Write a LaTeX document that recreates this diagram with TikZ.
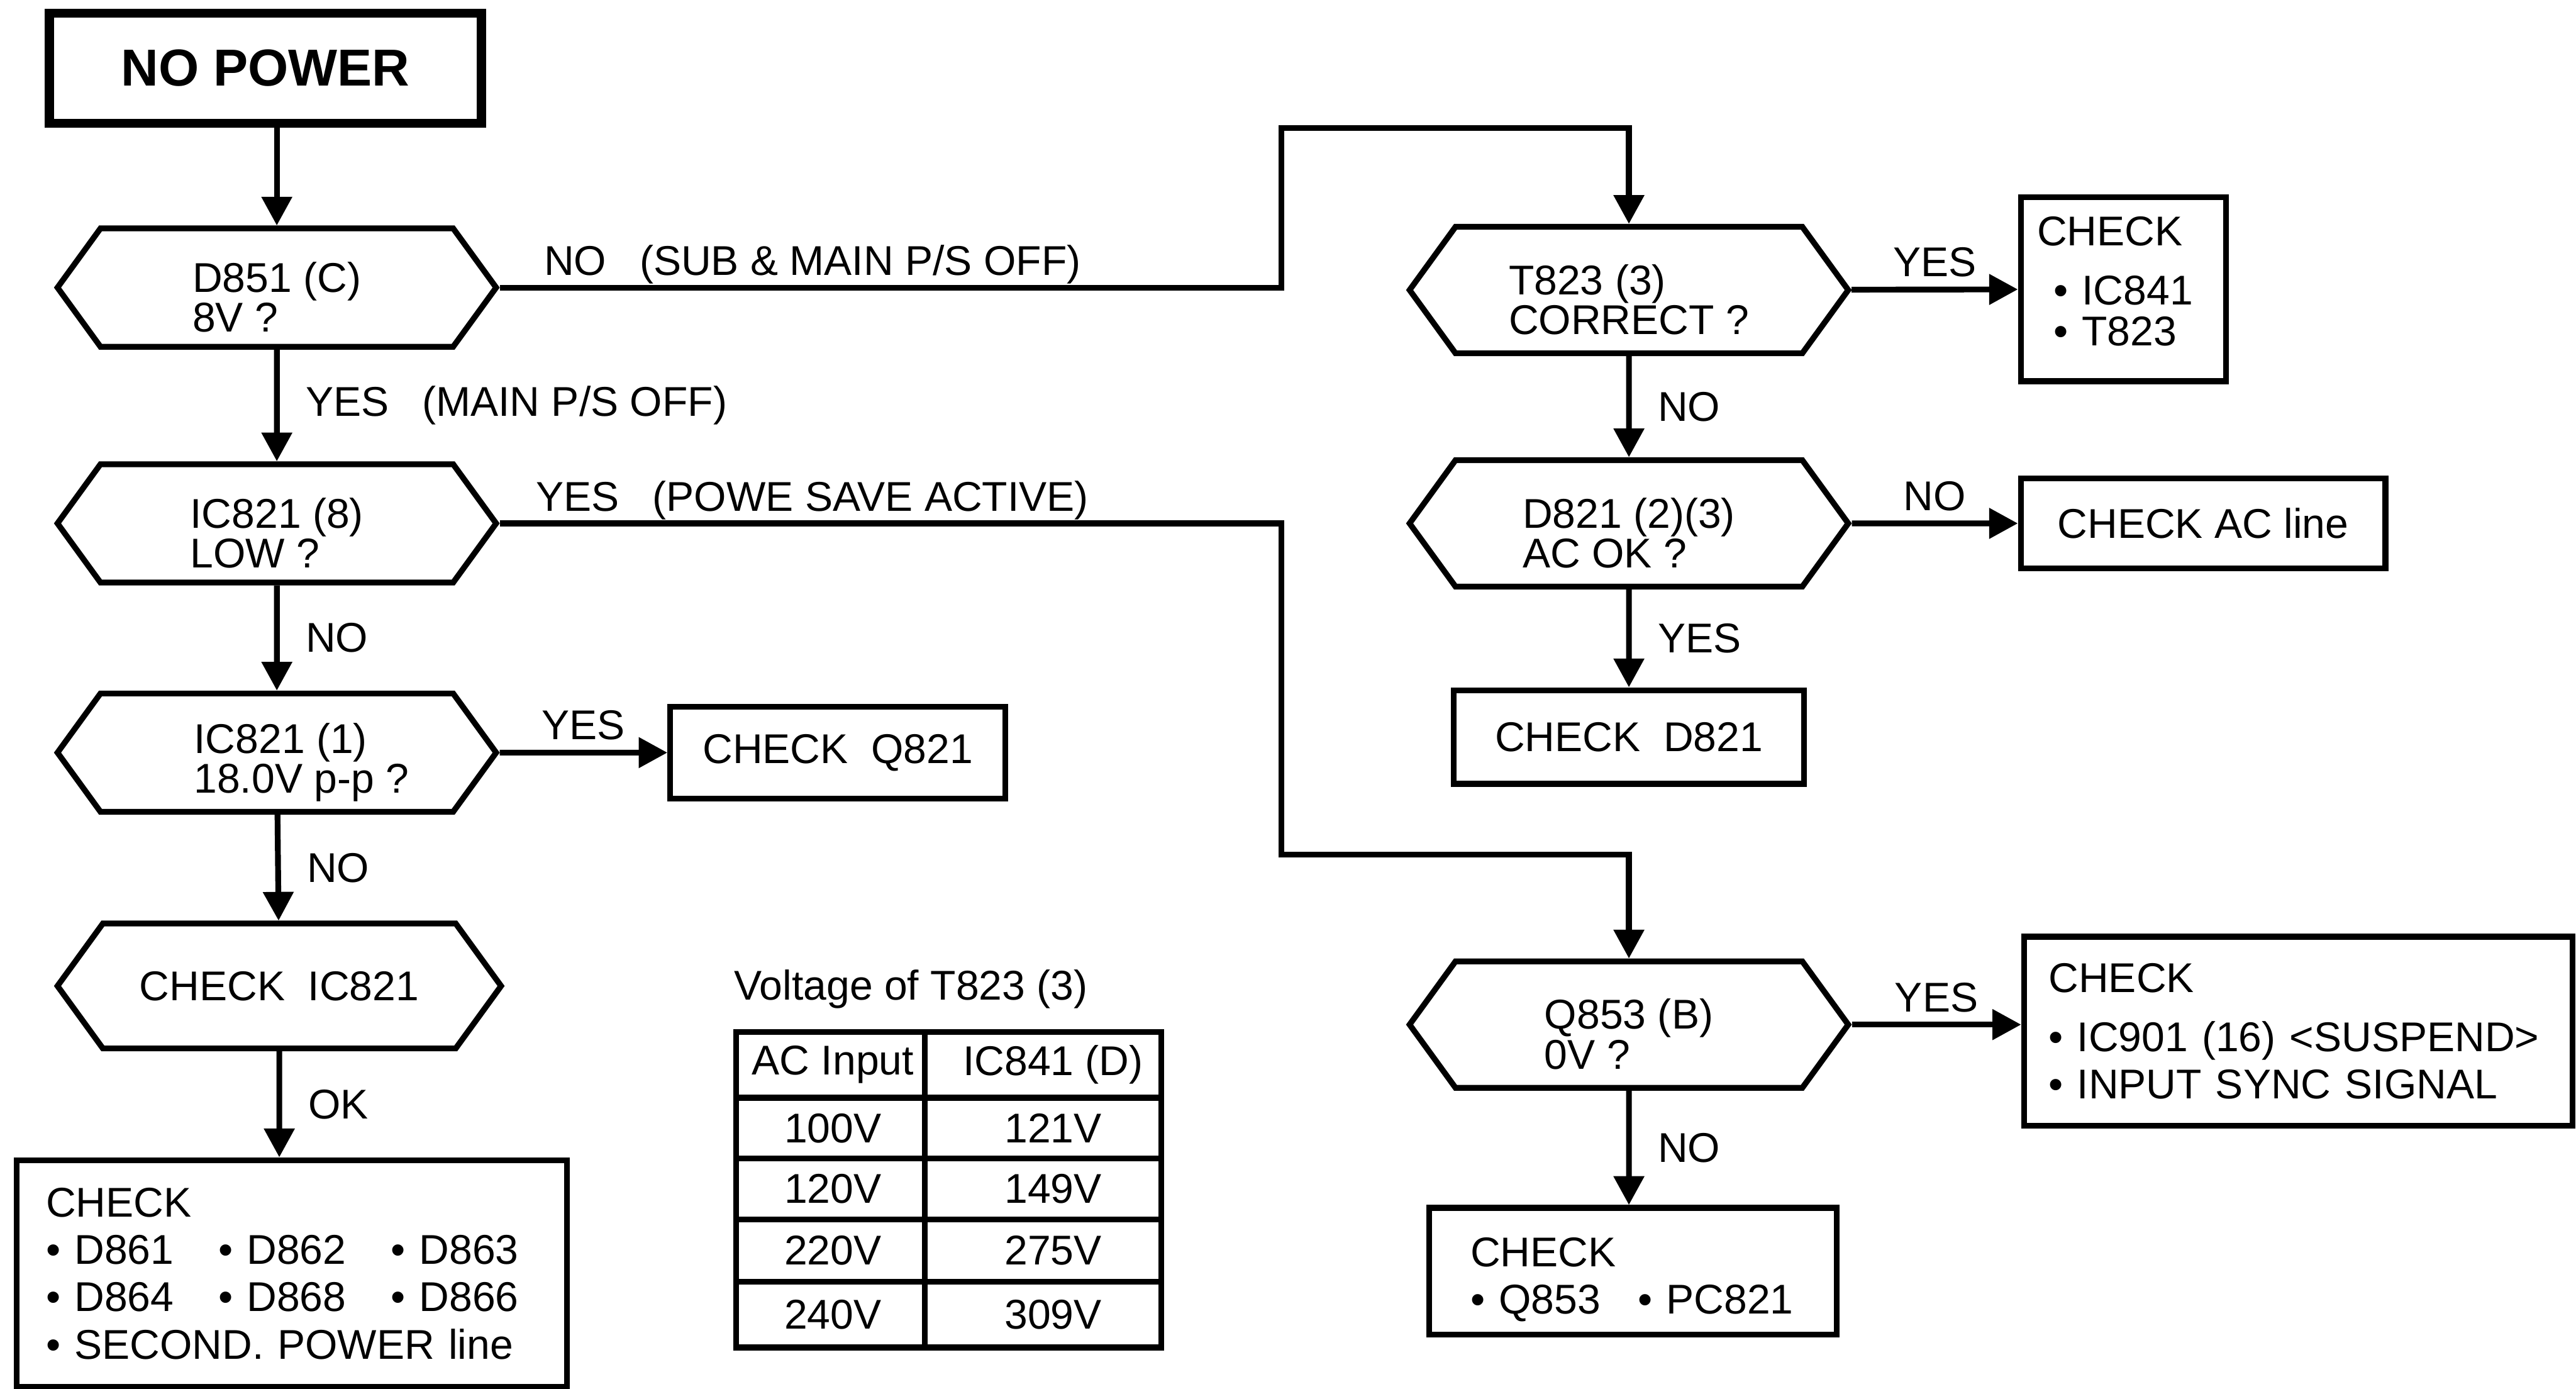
\documentclass[tikz,border=0pt]{standalone}
\usepackage{fontspec}
\setmainfont{Liberation Sans}
\usetikzlibrary{arrows.meta,shapes.symbols}
\newcommand{\hexstrut}{\rule{0pt}{0.6cm}}

\begin{document}
\begin{tikzpicture}[
    every node/.style={font=\fontsize{14.4}{13.8}\selectfont},
    line width=2pt,
    test/.style={draw,signal,signal to=west and east,signal pointer angle=108,
        minimum width=5.34cm,minimum height=1.44cm,inner sep=0pt,align=left},
    result/.style={draw,rectangle,inner sep=0pt},
    note/.style={result,inner xsep=0.36cm,align=left,
        font=\fontsize{14.4}{16.4}\selectfont},
    arr/.style={-{Triangle[length=3.5mm,width=3.6mm]}},
    cell/.style={inner sep=0pt},
]
    \useasboundingbox[fill=white] (0,0) rectangle (31.36,-16.9);

    % start
    \node[draw,line width=3.2pt,minimum width=5.26cm,minimum height=1.34cm,
        font=\fontsize{18}{20}\selectfont\bfseries] (nopower) at (3.23,-0.83) {NO POWER};

    % left column
    \node[test] (d851) at (3.37,-3.50) {\hexstrut D851 (C)\\8V ?};
    \node[test] (ic821a) at (3.37,-6.37) {\hexstrut IC821 (8)\\LOW ?};
    \node[test] (ic821b) at (3.37,-9.16) {\hexstrut\hspace*{0.6cm}IC821 (1)\\\hspace*{0.6cm}18.0V p-p ?};
    \node[test,minimum width=5.4cm,minimum height=1.52cm] (chkic821) at (3.40,-12.0) {CHECK\ \ IC821};
    \node[result,minimum width=4.08cm,minimum height=1.12cm] (chkq821) at (10.2,-9.16) {CHECK\ \ Q821};
    \node[note,text width=5.98cm,minimum height=2.76cm] (chkdiodes) at (3.55,-15.50)
        {CHECK\\
         \makebox[2.1cm][l]{\textbullet\ D861}\makebox[2.1cm][l]{\textbullet\ D862}\textbullet\ D863\\
         \makebox[2.1cm][l]{\textbullet\ D864}\makebox[2.1cm][l]{\textbullet\ D868}\textbullet\ D866\\
         \textbullet\ SECOND. POWER line};

    % right column
    \node[test,minimum height=1.54cm] (t823) at (19.83,-3.53) {\hexstrut T823 (3)\\CORRECT ?};
    \node[test,minimum height=1.54cm] (d821) at (19.83,-6.37) {\hexstrut D821 (2)(3)\\AC OK ?};
    \node[test,minimum height=1.54cm] (q853) at (19.83,-12.47) {\hexstrut Q853 (B)\\0V ?};
    \node[note,inner xsep=0.2cm,text width=2.1cm,minimum height=2.24cm,
        font=\fontsize{14.4}{14.2}\selectfont] (chkt823) at (25.85,-3.52)
        {CHECK\\[0.22cm]\hspace*{0.2cm}\textbullet\ IC841\\\hspace*{0.2cm}\textbullet\ T823\rule[-0.2cm]{0pt}{0.2cm}};
    \node[result,minimum width=4.44cm,minimum height=1.1cm] (chkac) at (26.82,-6.37) {CHECK AC line};
    \node[result,minimum width=4.26cm,minimum height=1.14cm] (chkd821) at (19.83,-8.97) {CHECK\ \ D821};
    \node[note,inner xsep=0.3cm,text width=6.08cm,minimum height=2.3cm] (chksync) at (27.98,-12.55)
        {CHECK\\[0.14cm]\textbullet\ IC901 (16) <SUSPEND>\\\textbullet\ INPUT SYNC SIGNAL};
    \node[note,inner xsep=0.5cm,text width=3.96cm,minimum height=1.54cm] (chkpc821) at (19.88,-15.47)
        {\rule{0pt}{0.56cm}CHECK\\\makebox[2.04cm][l]{\textbullet\ Q853}\textbullet\ PC821};

    % voltage table
    \node[cell] (tabtitle) at (11.09,-12.04) {Voltage of T823 (3)};
    \draw (8.96,-12.56) rectangle (14.14,-16.40);
    \draw (11.26,-12.56) -- (11.26,-16.40);
    \foreach \y in {-13.36,-14.10,-14.84,-15.60}
        \draw (8.96,\y) -- (14.14,\y);
    \foreach \ac/\ic/\y [count=\r] in {AC Input/IC841 (D)/-12.96, 100V/121V/-13.73,
            120V/149V/-14.47, 220V/275V/-15.22, 240V/309V/-16.0} {
        \node[cell] (ac\r) at (10.14,\y) {\ac};
        \node[cell] (ic\r) at (12.82,\y) {\ic};
    }

    % connectors
    \coordinate (jogno) at (15.6,-1.56);
    \coordinate (jogyes) at (15.6,-10.4);
    \draw[arr] (nopower.south -| d851.north) -- (d851.north);
    \draw[arr] (d851) -- node[right=0.2cm] {YES\hspace{0.8em}(MAIN P/S OFF)} (ic821a);
    \draw[arr] (ic821a) -- node[right=0.2cm] {NO} (ic821b);
    \draw[arr] (ic821b) -- node[right=0.2cm] {NO} (chkic821);
    \draw[arr] (ic821b) -- node[above] {YES} (chkq821);
    \draw[arr] (chkic821) -- node[right=0.2cm] {OK} (chkic821 |- chkdiodes.north);
    \draw[arr] (d851.east) -- node[above,pos=0.4,text depth=0pt] {NO\hspace{0.8em}(SUB \& MAIN P/S OFF)}
        (d851.east -| jogno) -- (jogno) -- (jogno -| t823.north) -- (t823.north);
    \draw[arr] (ic821a.east) -- node[above,pos=0.4,text depth=0pt] {YES\hspace{0.8em}(POWE SAVE ACTIVE)}
        (ic821a.east -| jogyes) -- (jogyes) -- (jogyes -| q853.north) -- (q853.north);
    \draw[arr] (t823) -- node[above] {YES} (chkt823);
    \draw[arr] (t823) -- node[right=0.2cm] {NO} (d821);
    \draw[arr] (d821) -- node[above] {NO} (chkac);
    \draw[arr] (d821) -- node[right=0.2cm] {YES} (chkd821);
    \draw[arr] (q853.east) -- node[above] {YES} (q853.east -| chksync.west);
    \draw[arr] (q853) -- node[right=0.2cm] {NO} (q853 |- chkpc821.north);
\end{tikzpicture}
\end{document}
